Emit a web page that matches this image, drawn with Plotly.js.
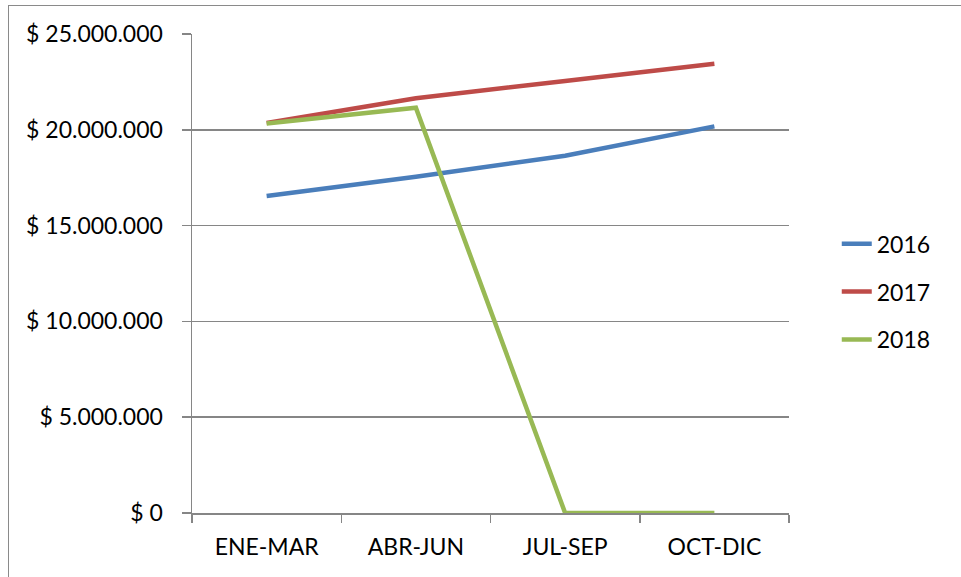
<!DOCTYPE html>
<html>
<head>
<meta charset="utf-8">
<script src="https://cdn.plot.ly/plotly-3.0.1.min.js"></script>
<style>
html,body{margin:0;padding:0;background:#fff;}
#wrap{position:relative;width:961px;height:577px;}
#chart{width:961px;height:577px;}
#frame{position:absolute;left:8px;top:5px;width:980px;height:600px;border:1.5px solid #8a8a8a;pointer-events:none;}
</style>
</head>
<body>
<div id="wrap"><div id="chart"></div><div id="frame"></div></div>
<script>
const categories = ["ENE-MAR", "ABR-JUN", "JUL-SEP", "OCT-DIC"];
const seriesNames = ["2016", "2017", "2018"];
const values2016 = [16550000, 17550000, 18650000, 20180000];
const values2017 = [20350000, 21650000, 22550000, 23450000];
const values2018 = [20330000, 21150000, 0, 0];
const colors = ["#4A7EBB", "#BE4B48", "#98B954"];

const allValues = [values2016, values2017, values2018];
const traces = allValues.map((v, i) => ({
  type: "scatter",
  mode: "lines",
  x: categories,
  y: v,
  name: seriesNames[i],
  legendgroup: seriesNames[i],
  line: {color: colors[i], width: 4.5}
}));

const font = {family: "Lato, 'Open Sans', sans-serif", size: 23, color: "#000"};
const layout = {
  width: 961, height: 577,
  margin: {l: 192, r: 172, t: 34, b: 64},
  paper_bgcolor: "#fff", plot_bgcolor: "#fff",
  separators: ",.",
  font: font,
  showlegend: true,
  legend: {x: 1.08, xanchor: "left", y: 0.462, yanchor: "middle", font: font, tracegroupgap: 15, bgcolor: "rgba(0,0,0,0)"},
  xaxis: {
    type: "category",
    range: [-0.5, categories.length - 0.5],
    showgrid: false,
    showline: true, linecolor: "#868686", linewidth: 1.5,
    ticks: "outside", tickson: "boundaries", ticklen: 8, tickcolor: "#868686", tickwidth: 1.5,
    ticklabelstandoff: 13,
    tickfont: font,
    zeroline: false
  },
  yaxis: {
    range: [0, 25000000],
    dtick: 5000000, tick0: 0,
    tickformat: ",d", tickprefix: "$ ",
    showgrid: true, gridcolor: "#868686", gridwidth: 1.5,
    showline: true, linecolor: "#868686", linewidth: 1.5,
    ticks: "outside", ticklen: 9, tickcolor: "#868686", tickwidth: 1.5,
    ticklabelstandoff: 14,
    tickfont: font,
    zeroline: false
  }
};
Plotly.newPlot("chart", traces, layout, {staticPlot: true, displayModeBar: false});
</script>
</body>
</html>
